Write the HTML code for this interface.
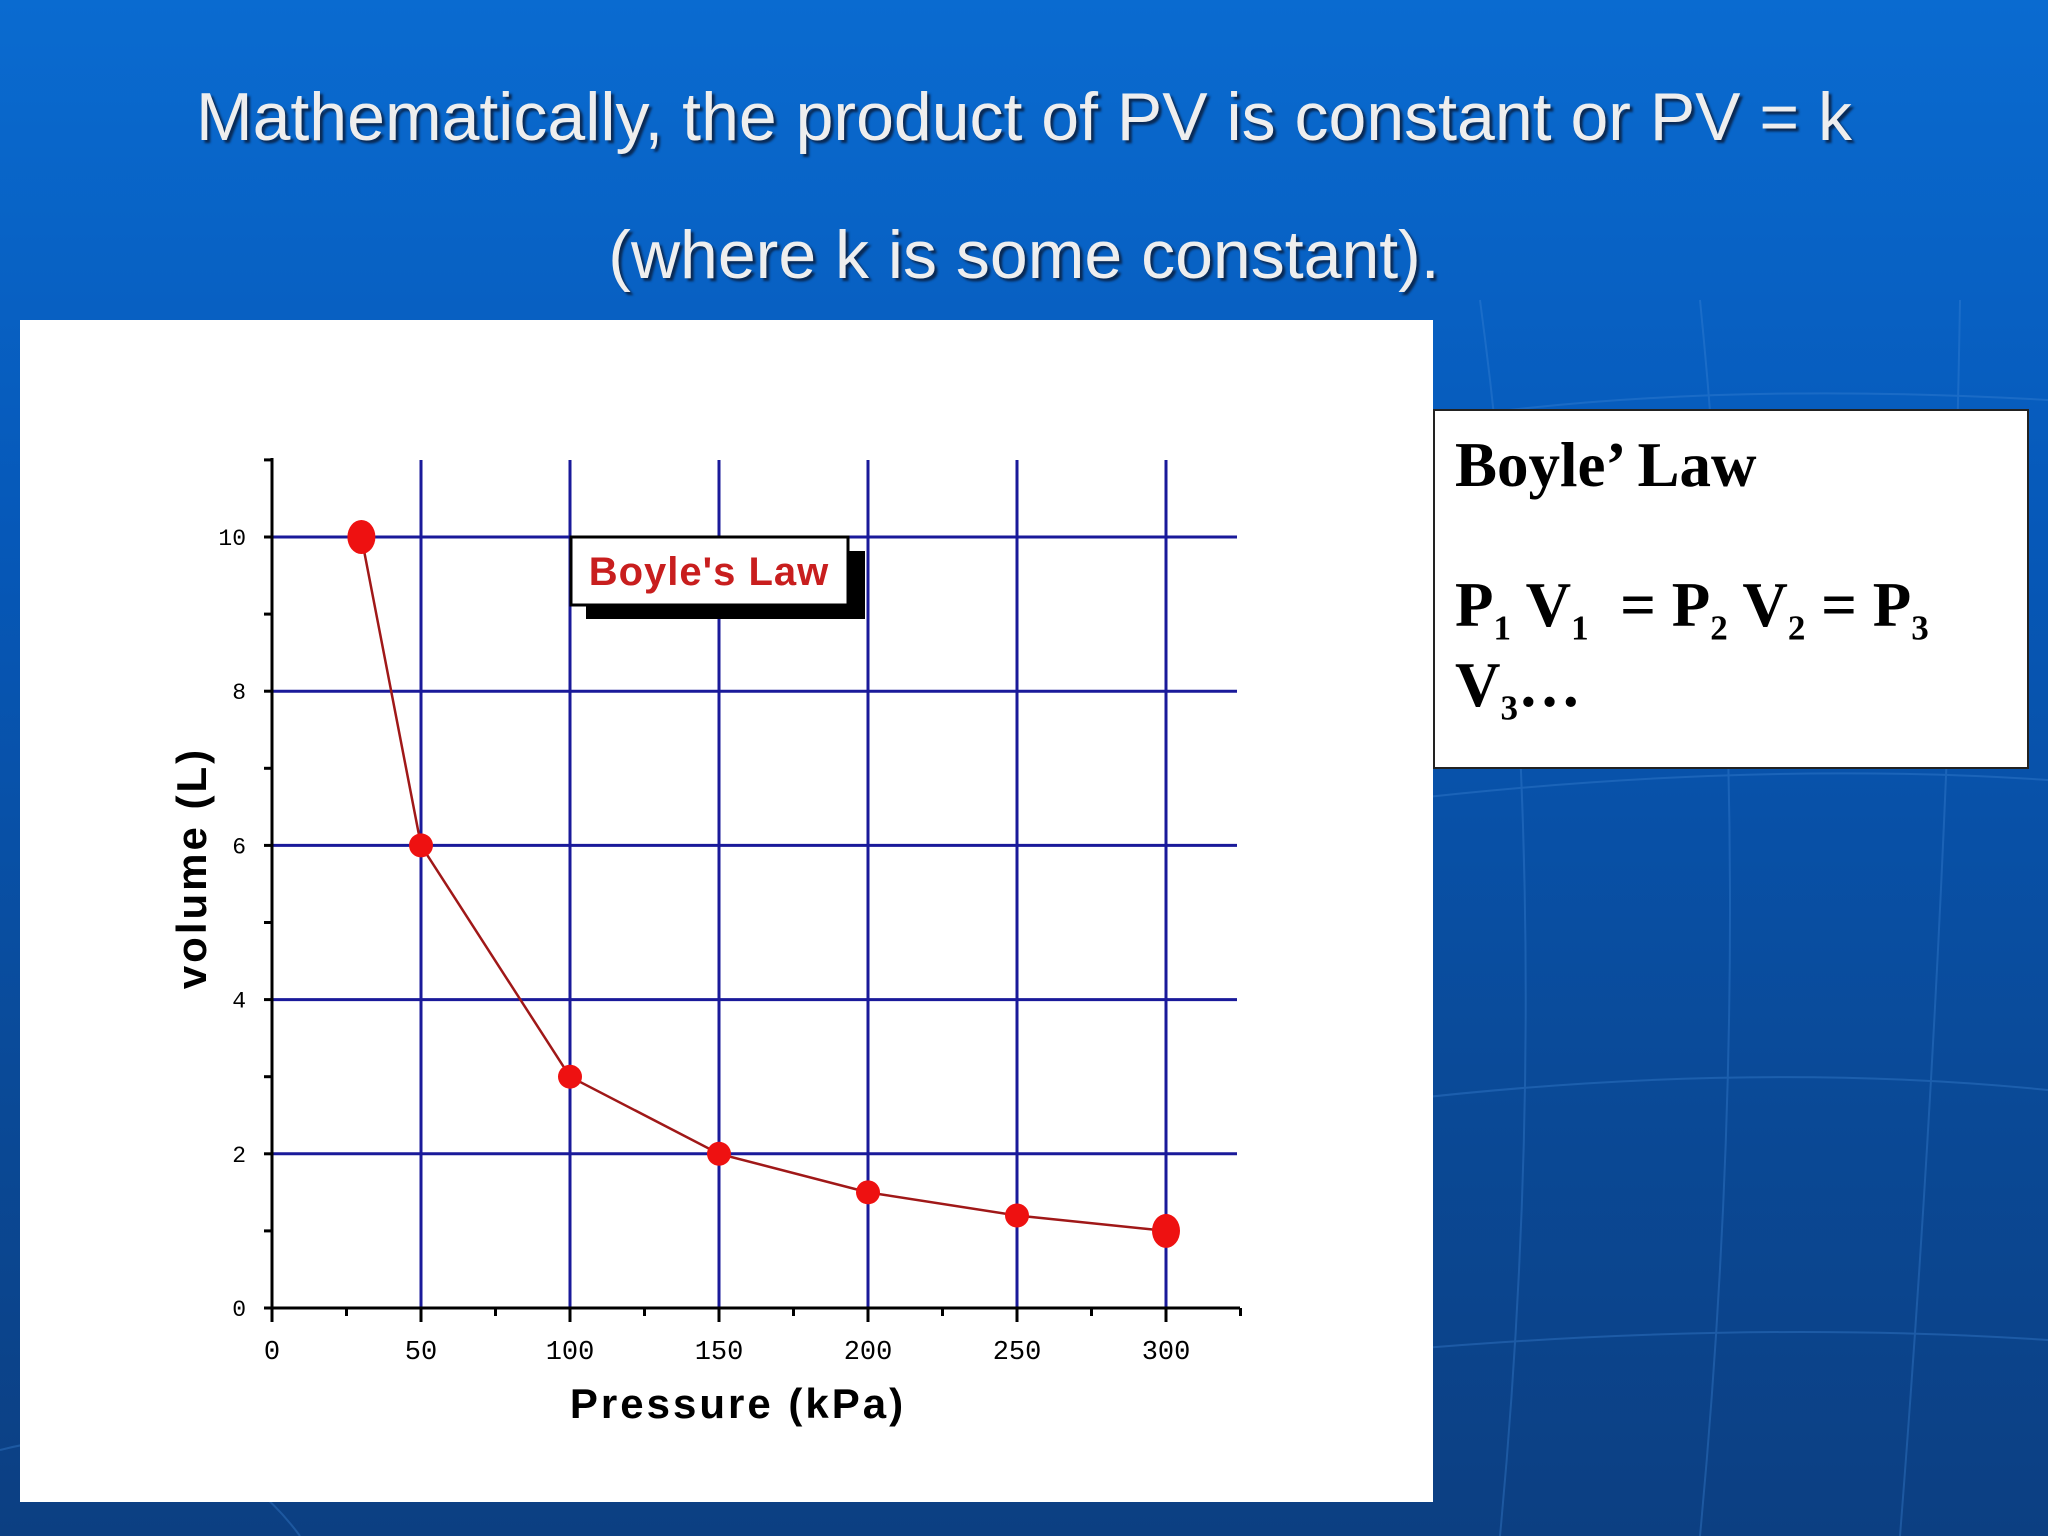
<!DOCTYPE html>
<html><head><meta charset="utf-8"><style>
html,body{margin:0;padding:0;width:2048px;height:1536px;overflow:hidden}
body{background:linear-gradient(180deg,#0a6bd0 0%,#0658b8 35%,#0a4a98 70%,#0c3f82 100%);font-family:"Liberation Sans",sans-serif;position:relative}
.title{position:absolute;left:0;width:2048px;text-align:center;color:#eeeeee;font-size:68px;text-shadow:3px 3px 2px #0a2a55}
</style></head><body>
<svg style="position:absolute;left:0;top:0" width="2048" height="1536">
<g stroke="#3f86d6" stroke-width="2" fill="none" opacity="0.35">
<path d="M1500 1536 Q1560 900 1480 300"/><path d="M1700 1536 Q1760 900 1700 300"/><path d="M1900 1536 Q1950 900 1960 300"/>
<path d="M1400 800 Q1750 760 2048 780"/><path d="M1400 1100 Q1750 1060 2048 1090"/><path d="M1400 1350 Q1750 1320 2048 1340"/>
<path d="M0 1450 Q200 1400 300 1536"/><path d="M1433 420 Q1700 380 2048 400"/>
</g></svg>
<div class="title" style="top:78px">Mathematically, the product of PV is constant or PV = k</div>
<div class="title" style="top:216px">(where k is some constant).</div>
<div style="position:absolute;left:20px;top:320px;width:1413px;height:1182px;background:#fff"></div>
<div style="position:absolute;left:1433px;top:409px;width:592px;height:356px;background:#fff;border:2px solid #222;font-family:'Liberation Serif',serif;font-weight:bold;font-size:63px;color:#000">
<div style="position:absolute;left:20px;top:18px">Boyle’ Law</div>
<div style="position:absolute;left:20px;top:158px;white-space:nowrap">P<sub style="font-size:35px">1</sub> V<sub style="font-size:35px">1</sub> &nbsp;= P<sub style="font-size:35px">2</sub> V<sub style="font-size:35px">2</sub> = P<sub style="font-size:35px">3</sub></div>
<div style="position:absolute;left:20px;top:238px">V<sub style="font-size:35px">3</sub>…</div>
</div>
<svg id="chart" style="position:absolute;left:0;top:0" width="2048" height="1536"></svg>
<script>
const pressures=[30,50,100,150,200,250,300];
const volumes=[10,6,3,2,1.5,1.2,1];
const xTicks=[0,50,100,150,200,250,300];
const yTicks=[0,2,4,6,8,10];
const X0=272,XS=2.98,Y0=1308,YS=77.1;
const xs=v=>X0+v*XS, ys=v=>Y0-v*YS;
const svg=document.getElementById('chart');
const NS='http://www.w3.org/2000/svg';
function mk(t,a){const e=document.createElementNS(NS,t);for(const k in a)e.setAttribute(k,a[k]);svg.appendChild(e);return e;}
yTicks.filter(v=>v>0).forEach(v=>{const l=mk('line',{x1:X0,x2:1237,y1:ys(v),y2:ys(v),stroke:'#1a1a9a','stroke-width':3});

});
xTicks.filter(v=>v>0).forEach(v=>{const l=mk('line',{x1:xs(v),x2:xs(v),y1:460,y2:Y0,stroke:'#1a1a9a','stroke-width':3});

});
let a=mk('line',{x1:X0,x2:X0,y1:458,y2:Y0+2,stroke:'#000','stroke-width':3});


a=mk('line',{x1:X0,x2:1240,y1:Y0,y2:Y0,stroke:'#000','stroke-width':3});


for(let v=0;v<=11;v++){mk('line',{x1:X0-8,x2:X0,y1:ys(v),y2:ys(v),stroke:'#000','stroke-width':3});}
for(let v=0;v<=325;v+=25){mk('line',{x1:xs(v),x2:xs(v),y1:Y0,y2:Y0+(v%50?8:14),stroke:'#000','stroke-width':3});}
yTicks.forEach(v=>{const t=mk('text',{x:X0-26,y:ys(v)+8,'text-anchor':'end','font-size':23,'font-family':'Liberation Mono,monospace'});t.textContent=v;

});
xTicks.forEach(v=>{const t=mk('text',{x:xs(v),y:1359,'text-anchor':'middle','font-size':27,'font-family':'Liberation Mono,monospace'});t.textContent=v;

});
let t=mk('text',{x:738,y:1418,'text-anchor':'middle','font-size':42,'font-weight':'bold','font-family':'Liberation Sans,sans-serif','letter-spacing':3});t.textContent='Pressure (kPa)';


t=mk('text',{x:0,y:0,'text-anchor':'middle','font-size':42,'font-weight':'bold','font-family':'Liberation Sans,sans-serif','letter-spacing':3,transform:'translate(206,868) rotate(-90)'});t.textContent='volume (L)';


const pl=mk('polyline',{points:pressures.map((p,i)=>xs(p)+','+ys(volumes[i])).join(' '),fill:'none',stroke:'#a01818','stroke-width':2.5});


pressures.forEach((p,i)=>{const end=(i==0||i==pressures.length-1);
const c=mk('ellipse',{cx:xs(p),cy:ys(volumes[i]),rx:end?14:12,ry:end?17:12,fill:'#ee1111'});

});
mk('rect',{x:586,y:551,width:279,height:68,fill:'#000'});
const lb=mk('rect',{x:571,y:537,width:277,height:68,fill:'#fff',stroke:'#000','stroke-width':3});


t=mk('text',{x:709,y:585,'text-anchor':'middle','font-size':40,'font-weight':'bold',fill:'#c81e1e','font-family':'Liberation Sans,sans-serif','letter-spacing':1});t.textContent="Boyle's Law";


</script>
</body></html>
